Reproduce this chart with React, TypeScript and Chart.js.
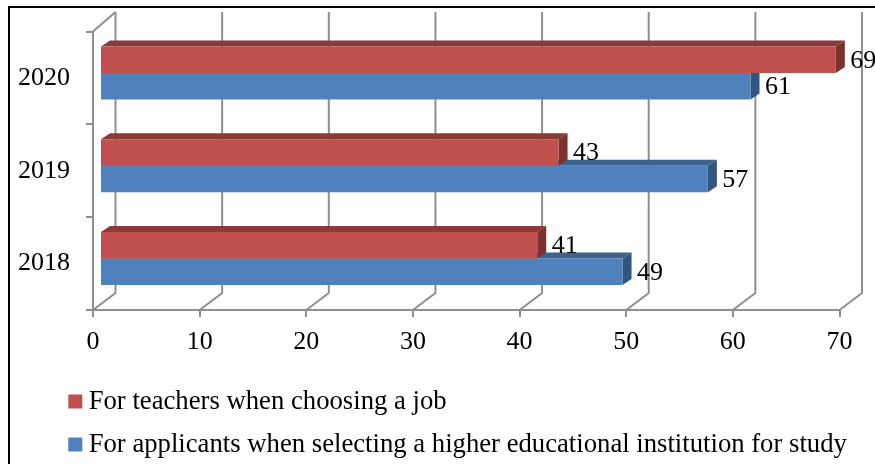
import React, { useEffect, useRef } from "react";
import { Chart, registerables } from "chart.js";

Chart.register(...registerables);

const categories = ["2020", "2019", "2018"];
const teachers = [69, 43, 41];
const applicants = [61, 57, 49];
const xTicksMax = 70;
const seriesNames = [
  "For teachers when choosing a job",
  "For applicants when selecting a higher educational institution for study",
];
const FONT = "'Liberation Serif'";
const GRAY = "#8f8f8f";
const faceColors = [
  { top: "#8c3a38", side: "#7d302e" },
  { top: "#3c6390", side: "#305580" },
];
const SHIFT_X = 7;
const SHIFT_Y = -5;
const BAR_DX = 9;
const BAR_DY = -6;
const WALL_DX = 22.5;
const WALL_TOP = 12;
const WALL_BOTTOM = 293;

const frame = {
  id: "frame",
  beforeDraw(chart: any) {
    const { ctx, width, height } = chart;
    ctx.save();
    ctx.fillStyle = "#fff";
    ctx.fillRect(0, 0, width, height);
    ctx.strokeStyle = "#000";
    ctx.lineWidth = 2;
    ctx.beginPath();
    ctx.moveTo(9, height);
    ctx.lineTo(9, 7);
    ctx.lineTo(width, 7);
    ctx.stroke();
    ctx.restore();
  },
  afterLayout(chart: any) {
    chart.legend.left = 59;
    chart.legend.top = 371.85;
    chart.legend.right = chart.width;
    chart.legend.bottom = chart.height;
  },
};

const walls = {
  id: "walls",
  beforeDatasetsDraw(chart: any) {
    const { ctx, scales } = chart;
    const x = scales.x;
    const y = scales.y;
    ctx.save();
    ctx.strokeStyle = GRAY;
    ctx.lineWidth = 2;
    for (const t of x.ticks) {
      const px = x.getPixelForValue(t.value);
      ctx.beginPath();
      ctx.moveTo(px, y.bottom);
      ctx.lineTo(px + WALL_DX, WALL_BOTTOM);
      ctx.lineTo(px + WALL_DX, WALL_TOP);
      ctx.stroke();
    }
    ctx.beginPath();
    ctx.moveTo(x.left, y.top);
    ctx.lineTo(x.left + WALL_DX, WALL_TOP);
    ctx.stroke();
    ctx.restore();
  },
};

const bars3d = {
  id: "bars3d",
  beforeDatasetDraw(chart: any, args: any) {
    chart.ctx.save();
    chart.ctx.translate(SHIFT_X, SHIFT_Y);
    const ctx = chart.ctx;
    const c = faceColors[args.index];
    for (const el of args.meta.data) {
      const top = el.y - el.height / 2;
      const bot = el.y + el.height / 2;
      ctx.fillStyle = c.top;
      ctx.beginPath();
      ctx.moveTo(el.base, top);
      ctx.lineTo(el.base + BAR_DX, top + BAR_DY);
      ctx.lineTo(el.x + BAR_DX, top + BAR_DY);
      ctx.lineTo(el.x, top);
      ctx.closePath();
      ctx.fill();
      ctx.fillStyle = c.side;
      ctx.beginPath();
      ctx.moveTo(el.x, top);
      ctx.lineTo(el.x + BAR_DX, top + BAR_DY);
      ctx.lineTo(el.x + BAR_DX, bot + BAR_DY);
      ctx.lineTo(el.x, bot);
      ctx.closePath();
      ctx.fill();
    }
  },
  afterDatasetDraw(chart: any) {
    chart.ctx.restore();
  },
  afterDatasetsDraw(chart: any) {
    const ctx = chart.ctx;
    ctx.save();
    ctx.font = `26px ${FONT}`;
    ctx.fillStyle = "#000";
    ctx.textAlign = "left";
    ctx.textBaseline = "middle";
    chart.data.datasets.forEach((ds: any, i: number) => {
      chart.getDatasetMeta(i).data.forEach((el: any, j: number) => {
        ctx.fillText(String(ds.data[j]), el.x + 21.5, el.y - 4);
      });
    });
    ctx.restore();
  },
};

export default function App() {
  const ref = useRef<HTMLCanvasElement>(null);
  useEffect(() => {
    document.body.style.margin = "0";
    const chart = new Chart(ref.current!, {
      type: "bar",
      data: {
        labels: categories,
        datasets: [
          { label: seriesNames[0], data: teachers, backgroundColor: "#C0504D", clip: false },
          { label: seriesNames[1], data: applicants, backgroundColor: "#4F81BD", clip: false },
        ],
      } as any,
      options: {
        indexAxis: "y",
        animation: false,
        responsive: false,
        devicePixelRatio: 1,
        layout: { padding: { top: 29, right: 35.5, left: 0, bottom: 0 } },
        categoryPercentage: 0.571,
        barPercentage: 1,
        plugins: {
          tooltip: { enabled: false },
          legend: {
            position: "bottom",
            align: "start",
            labels: {
              usePointStyle: true,
              pointStyle: "rect",
              boxWidth: 0.01,
              boxHeight: 14,
              padding: 16.3,
              color: "#000",
              font: { family: FONT, size: 26.7 },
            },
          },
        },
        scales: {
          x: {
            min: 0,
            max: xTicksMax,
            ticks: { stepSize: 10, color: "#000", padding: 10, maxRotation: 0, font: { family: FONT, size: 26 } },
            grid: { drawOnChartArea: false, color: GRAY, lineWidth: 2, tickLength: 7 },
            border: { color: GRAY, width: 2 },
            afterFit(s: any) { s.height = 464 - 310 - s.chart.legend.height; },
          },
          y: {
            offset: true,
            ticks: { color: "#000", padding: 16, font: { family: FONT, size: 26 } },
            grid: { offset: true, drawOnChartArea: false, color: GRAY, lineWidth: 2, tickLength: 7 },
            border: { color: GRAY, width: 2 },
            afterFit(s: any) { s.width = 93; },
          },
        },
      } as any,
      plugins: [frame, walls, bars3d],
    });
    return () => chart.destroy();
  }, []);
  return (
    <div style={{ width: 875, height: 464, overflow: "hidden" }}>
      <canvas ref={ref} width={875} height={464} style={{ display: "block" }} />
    </div>
  );
}
